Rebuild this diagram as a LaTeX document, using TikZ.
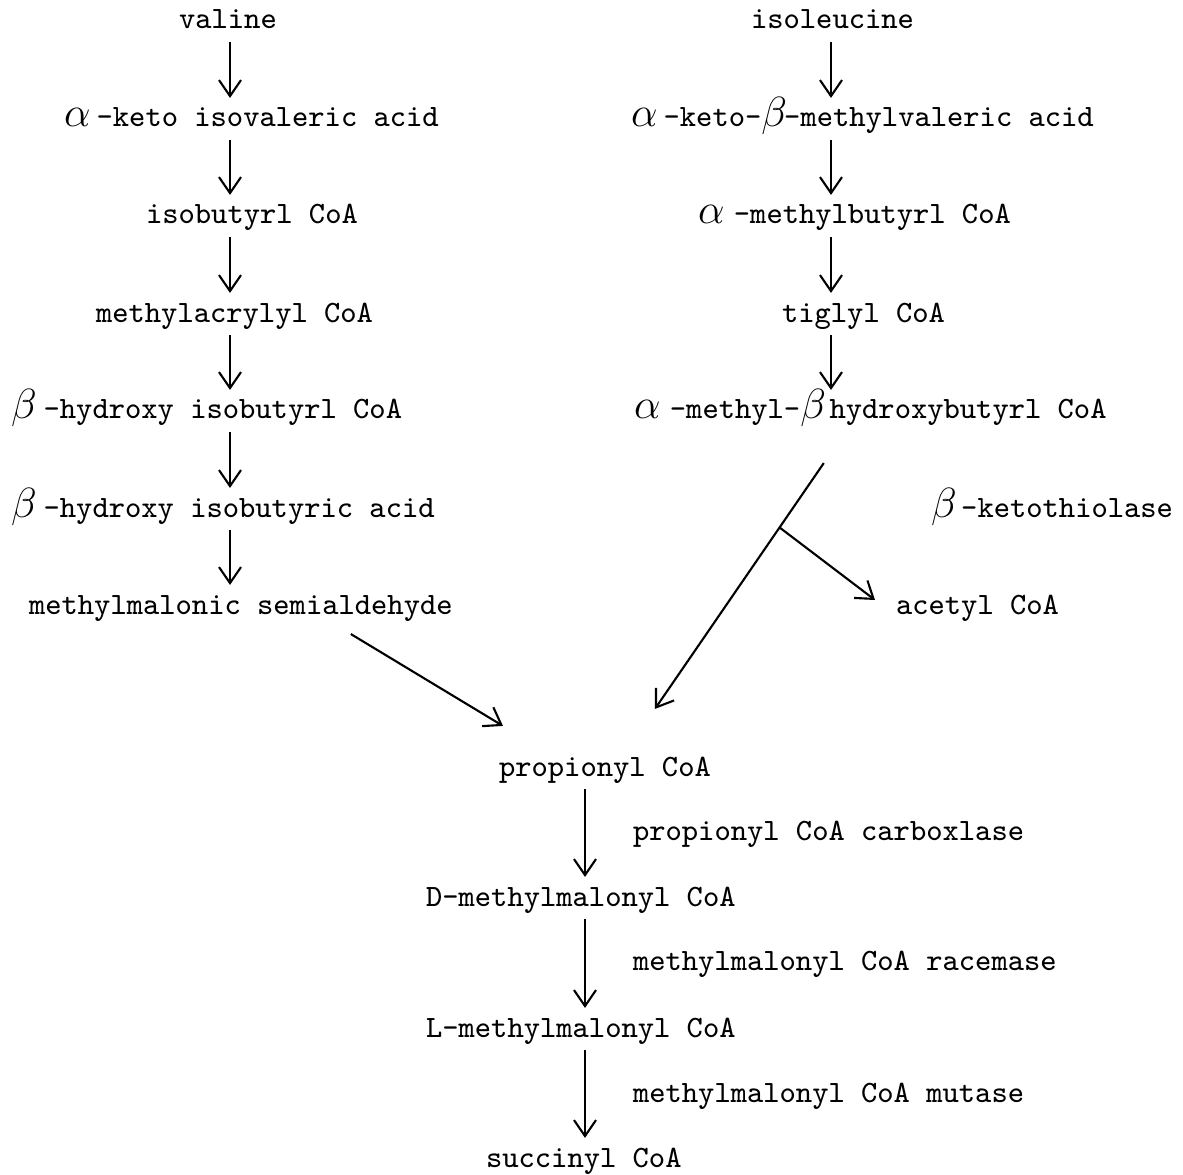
\documentclass[tikz,border=0pt]{standalone}
\usetikzlibrary{arrows.meta}

\newlength{\chw}
\setlength{\chw}{0.163cm}
\newcommand{\grk}[2]{\makebox[#1\chw][l]{\fontsize{11.5}{12}\selectfont$#2$}}

\begin{document}
\begin{tikzpicture}[
    >={Straight Barb[length=1.6mm,width=2.2mm]},
    line width=0.6pt,
    cmpd/.style={anchor=base west, inner xsep=0pt, inner ysep=0.04cm,
        text height=0.24cm, text depth=0.08cm,
        font=\fontsize{8.83}{10}\selectfont\ttfamily}
  ]
  \useasboundingbox (0,0) rectangle (11.83,-11.75);

  \coordinate (lx) at (2.30, 0);
  \coordinate (rx) at (8.31, 0);
  \coordinate (bx) at (5.85, 0);

  % valine branch
  \node[cmpd] (val)    at (1.78, -0.29) {valine};
  \node[cmpd] (akiv)   at (0.63, -1.27) {\grk{2}{\alpha}-keto isovaleric acid};
  \node[cmpd] (ibcoa)  at (1.45, -2.24) {isobutyrl CoA};
  \node[cmpd] (macoa)  at (0.95, -3.22) {methylacrylyl CoA};
  \node[cmpd] (hibcoa) at (0.10, -4.19) {\grk{2}{\beta}-hydroxy isobutyrl CoA};
  \node[cmpd] (hiba)   at (0.10, -5.17) {\grk{2}{\beta}-hydroxy isobutyric acid};
  \node[cmpd] (mmsa)   at (0.28, -6.14) {methylmalonic semialdehyde};

  \draw[->] (val.south -| lx)    -- (akiv.north -| lx);
  \draw[->] (akiv.south -| lx)   -- (ibcoa.north -| lx);
  \draw[->] (ibcoa.south -| lx)  -- (macoa.north -| lx);
  \draw[->] (macoa.south -| lx)  -- (hibcoa.north -| lx);
  \draw[->] (hibcoa.south -| lx) -- (hiba.north -| lx);
  \draw[->] (hiba.south -| lx)   -- (mmsa.north -| lx);

  % isoleucine branch
  \node[cmpd] (ile)     at (7.50, -0.29) {isoleucine};
  \node[cmpd] (akmv)    at (6.30, -1.27) {\grk{2}{\alpha}-keto-\grk{1.4}{\beta}-methylvaleric acid};
  \node[cmpd] (ambcoa)  at (6.97, -2.24) {\grk{2.2}{\alpha}-methylbutyrl CoA};
  \node[cmpd] (tigcoa)  at (7.81, -3.22) {tiglyl CoA};
  \node[cmpd] (amhbcoa) at (6.33, -4.19) {\grk{2.2}{\alpha}-methyl-\grk{1.8}{\beta}hydroxybutyrl CoA};
  \node[cmpd] (ketoth)  at (9.30, -5.17) {\grk{1.85}{\beta}-ketothiolase};
  \node[cmpd] (accoa)   at (8.95, -6.14) {acetyl CoA};

  \draw[->] (ile.south -| rx)    -- (akmv.north -| rx);
  \draw[->] (akmv.south -| rx)   -- (ambcoa.north -| rx);
  \draw[->] (ambcoa.south -| rx) -- (tigcoa.north -| rx);
  \draw[->] (tigcoa.south -| rx) -- (amhbcoa.north -| rx);

  % common pathway
  \node[cmpd] (pcoa) at (4.98, -7.76)  {propionyl CoA};
  \node[cmpd] (dmm)  at (4.25, -9.06)  {D-methylmalonyl CoA};
  \node[cmpd] (lmm)  at (4.25, -10.37) {L-methylmalonyl CoA};
  \node[cmpd] (scoa) at (4.85, -11.67) {succinyl CoA};

  \node[cmpd] (pcc) at (6.32, -8.40)  {propionyl CoA carboxlase};
  \node[cmpd] (mmr) at (6.32, -9.70)  {methylmalonyl CoA racemase};
  \node[cmpd] (mmm) at (6.32, -11.02) {methylmalonyl CoA mutase};

  \draw[->] (pcoa.south -| bx) -- (dmm.north -| bx);
  \draw[->] (dmm.south -| bx)  -- (lmm.north -| bx);
  \draw[->] (lmm.south -| bx)  -- (scoa.north -| bx);

  \draw[->] ([xshift=1.10cm,yshift=-0.07cm]mmsa.south)
    -- ([xshift=0.05cm,yshift=0.21cm]pcoa.north west);
  \draw[->] ([xshift=-0.465cm,yshift=-0.31cm]amhbcoa.south)
    -- coordinate[pos=0.262] (split) ([xshift=-0.57cm,yshift=0.38cm]pcoa.north east);
  \draw[->] (split) -- ([xshift=-0.20cm,yshift=0.06cm]accoa.west);

\end{tikzpicture}
\end{document}
